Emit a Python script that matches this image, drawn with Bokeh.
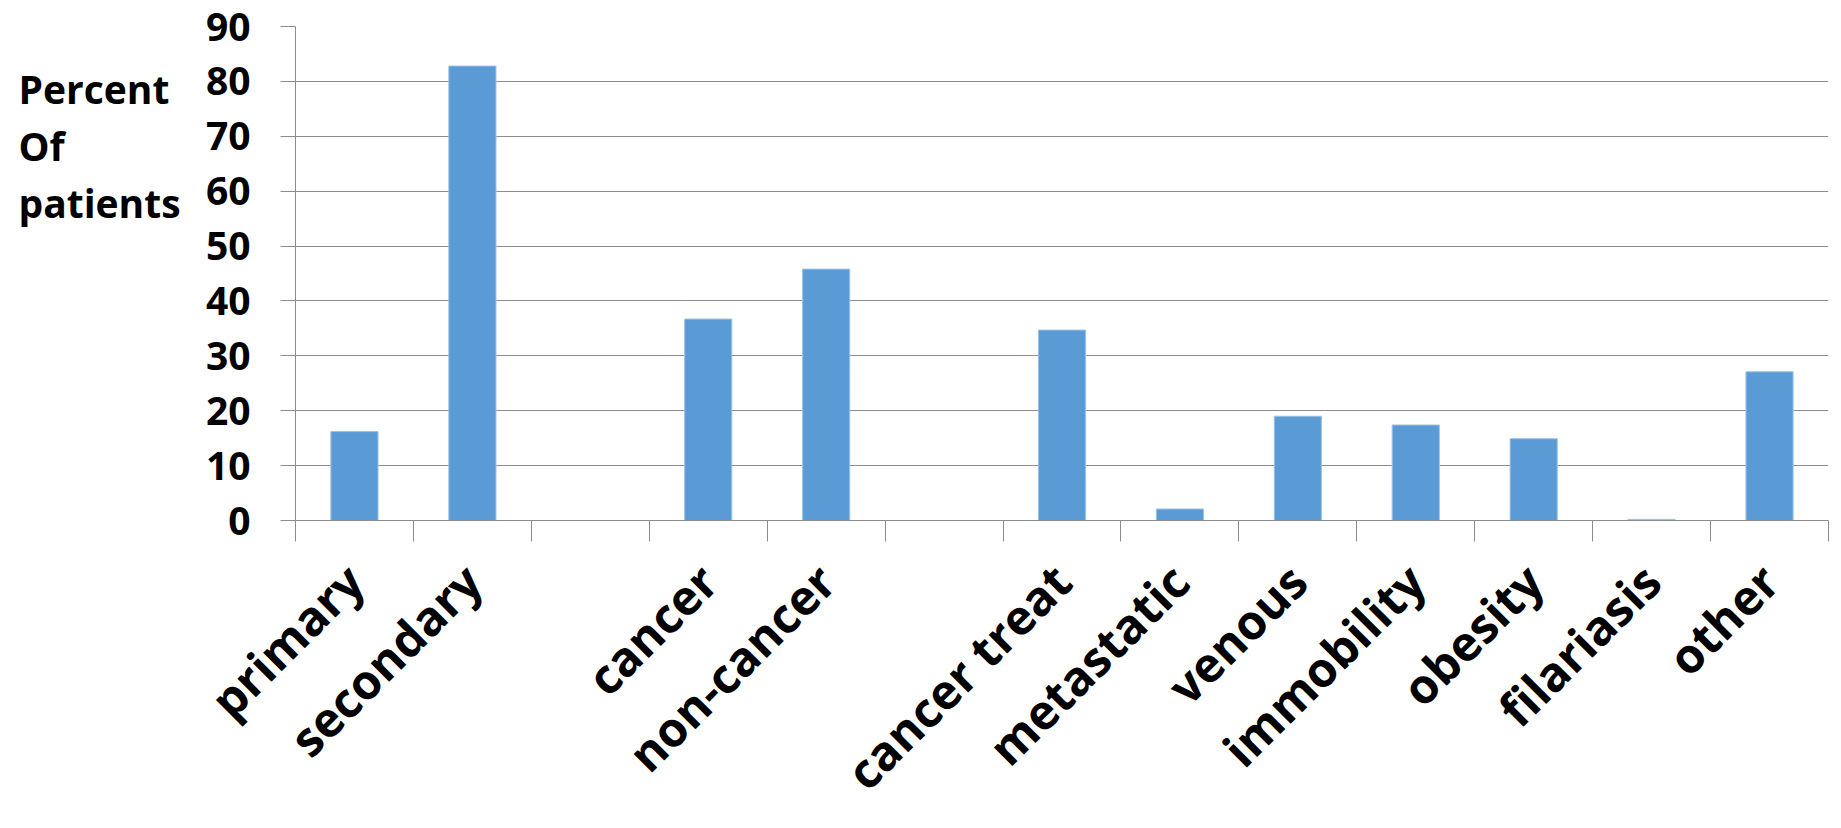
import math
from bokeh.plotting import figure
from bokeh.layouts import row
from bokeh.models import Range1d, FixedTicker
from bokeh.core.properties import value
from bokeh.embed import file_html
from bokeh.resources import INLINE

categories = ["primary", "secondary", "", "cancer", "non-cancer", "",
              "cancer treat", "metastatic", "venous", "immobility",
              "obesity", "filariasis", "other"]
values = [16.2, 82.8, 0, 36.7, 45.8, 0, 34.7, 2.1, 19.0, 17.4, 14.9, 0.2, 27.1]
y_ticks = [0, 10, 20, 30, 40, 50, 60, 70, 80, 90]
y_title_lines = ["Percent", "Of", "patients"]

W, H = 1841, 828
TW = 195                      # width of the y-title panel
L, R, T, B = 295, 1828, 26, 521
FONT = "Open Sans"
GREY = "#8c8c8c"

n = len(categories)
xs = [i + 0.5 for i in range(n)]

# ---- y title panel (its y data = pixels measured up from canvas bottom) ----
t = figure(width=TW, height=H, output_backend="svg", toolbar_location=None,
           x_range=Range1d(0, TW), y_range=Range1d(H - B, H - T),
           x_axis_location=None, y_axis_location=None,
           min_border_left=0, min_border_right=0,
           min_border_top=T, min_border_bottom=H - B,
           outline_line_color=None)
t.xgrid.visible = False
t.ygrid.visible = False
t.text(x=[18] * 3, y=[H - 88 - 57 * k for k in range(3)], text=y_title_lines,
       text_align="left", text_baseline="alphabetic",
       text_font=value(FONT), text_font_style="bold",
       text_font_size="39px", text_color="black")

# ---- main chart ------------------------------------------------------------
p = figure(width=W - TW, height=H, output_backend="svg", toolbar_location=None,
           x_range=Range1d(0, n), y_range=Range1d(0, 90),
           min_border_left=L - TW, min_border_right=W - R,
           min_border_top=T, min_border_bottom=H - B)
p.outline_line_color = None

p.vbar(x=xs, top=values, width=0.4, fill_color="#5B9BD5",
       line_color="#9DC3E6", line_width=1)

xa = p.xaxis[0]
xa.ticker = FixedTicker(ticks=xs, minor_ticks=list(range(n + 1)))
xa.major_label_overrides = {x: c for x, c in zip(xs, categories)}
xa.major_label_orientation = math.pi / 4
xa.major_label_standoff = 31
xa.major_label_text_font = FONT
xa.major_label_text_font_style = "bold"
xa.major_label_text_font_size = "48px"
xa.major_label_text_color = "black"
xa.major_tick_out = 0
xa.major_tick_in = 0
xa.major_tick_line_color = None
xa.minor_tick_out = 21
xa.minor_tick_in = 0
xa.minor_tick_line_color = GREY
xa.axis_line_color = GREY
p.xgrid.visible = False

ya = p.yaxis[0]
ya.ticker = FixedTicker(ticks=y_ticks)
ya.major_tick_out = 15
ya.major_tick_in = 0
ya.minor_tick_line_color = None
ya.axis_line_color = GREY
ya.major_tick_line_color = GREY
ya.major_label_standoff = 30
ya.major_label_text_font = FONT
ya.major_label_text_font_style = "bold"
ya.major_label_text_font_size = "39px"
ya.major_label_text_color = "black"
p.ygrid.ticker = FixedTicker(ticks=y_ticks)
p.ygrid.grid_line_color = GREY
p.ygrid.grid_line_width = 1

open("out.html", "w").write(file_html(row(t, p), INLINE))
